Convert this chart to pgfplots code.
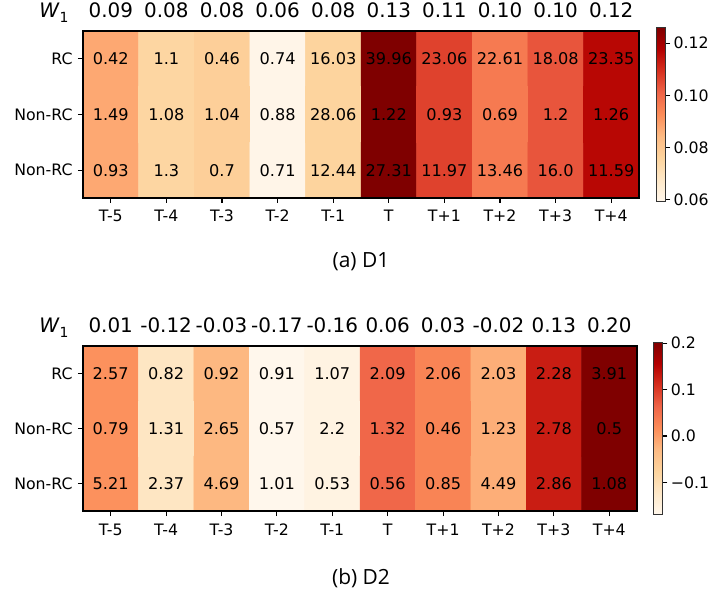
\documentclass[border=0pt]{standalone}
\usepackage{pgfplots}
\pgfplotsset{compat=1.18}
\usepackage{pgfplotstable}
\usepackage{fontspec}
\setmainfont{DejaVu Sans}
\newfontfamily\capfont{Open Sans}

\pgfplotsset{
  colormap={OrRd}{rgb255=(255,247,236) rgb255=(254,232,200) rgb255=(253,212,158) rgb255=(253,187,132) rgb255=(252,141,89) rgb255=(239,101,72) rgb255=(215,48,31) rgb255=(179,0,0) rgb255=(127,0,0)},
  heat/.style={
    scale only axis, anchor=south west,
    xmin=-0.5, xmax=9.5, ymin=-0.5, ymax=2.5, y dir=reverse,
    xtick={0,...,9}, xticklabels={T-5,T-4,T-3,T-2,T-1,T,T+1,T+2,T+3,T+4},
    ytick={0,1,2}, yticklabels={RC,Non-RC,Non-RC},
    xtick pos=lower, ytick pos=left,
    tick align=outside, major tick length=5bp,
    tick style={black, line width=1.1bp},
    axis line style={black, line width=1.2bp},
    tick label style={font=\fontsize{15.8}{18}\selectfont},
    xticklabel style={anchor=base, yshift=-19bp},
    yticklabel style={anchor=east, xshift=-2bp},
    colormap name=OrRd,
    clip=false, axis on top,
  },
  valtext/.style={draw=none, mark=none, nodes near coords, nodes near coords align=center,
    point meta=explicit symbolic,
    every node near coord/.append style={anchor=center, font=\fontsize{16.2}{18}\selectfont, text=black}},
  wrow/.style={
    scale only axis, anchor=south west,
    xmin=-0.5, xmax=9.5, ymin=0, ymax=1,
    hide y axis, axis x line*=top, x axis line style={draw=none},
    xtick={0,...,9}, major tick length=0pt,
    xticklabel style={anchor=base, yshift=13bp, font=\fontsize{20}{23}\selectfont},
    clip=false,
  },
}

\newcommand{\Wone}{\textit{W}\raisebox{-0.25em}{\fontsize{14}{16}\selectfont 1}}

\pgfplotstableread{
x y w
0 0 0.0878
1 0 0.0753
2 0 0.0777
3 0 0.0603
4 0 0.0760
5 0 0.1261
6 0 0.1066
7 0 0.0967
8 0 0.1036
9 0 0.1166
0 1 0.0878
1 1 0.0753
2 1 0.0777
3 1 0.0603
4 1 0.0760
5 1 0.1261
6 1 0.1066
7 1 0.0967
8 1 0.1036
9 1 0.1166
0 2 0.0878
1 2 0.0753
2 2 0.0777
3 2 0.0603
4 2 0.0760
5 2 0.1261
6 2 0.1066
7 2 0.0967
8 2 0.1036
9 2 0.1166
}\topcolor

\pgfplotstableread{
x y label
0 0 0.42
1 0 1.1
2 0 0.46
3 0 0.74
4 0 16.03
5 0 39.96
6 0 23.06
7 0 22.61
8 0 18.08
9 0 23.35
0 1 1.49
1 1 1.08
2 1 1.04
3 1 0.88
4 1 28.06
5 1 1.22
6 1 0.93
7 1 0.69
8 1 1.2
9 1 1.26
0 2 0.93
1 2 1.3
2 2 0.7
3 2 0.71
4 2 12.44
5 2 27.31
6 2 11.97
7 2 13.46
8 2 16.0
9 2 11.59
}\toptext

\pgfplotstableread{
x y w
0 0 0.0124
1 0 -0.117
2 0 -0.027
3 0 -0.169
4 0 -0.156
5 0 0.061
6 0 0.027
7 0 -0.017
8 0 0.128
9 0 0.202
0 1 0.0124
1 1 -0.117
2 1 -0.027
3 1 -0.169
4 1 -0.156
5 1 0.061
6 1 0.027
7 1 -0.017
8 1 0.128
9 1 0.202
0 2 0.0124
1 2 -0.117
2 2 -0.027
3 2 -0.169
4 2 -0.156
5 2 0.061
6 2 0.027
7 2 -0.017
8 2 0.128
9 2 0.202
}\botcolor

\pgfplotstableread{
x y label
0 0 2.57
1 0 0.82
2 0 0.92
3 0 0.91
4 0 1.07
5 0 2.09
6 0 2.06
7 0 2.03
8 0 2.28
9 0 3.91
0 1 0.79
1 1 1.31
2 1 2.65
3 1 0.57
4 1 2.2
5 1 1.32
6 1 0.46
7 1 1.23
8 1 2.78
9 1 0.5
0 2 5.21
1 2 2.37
2 2 4.69
3 2 1.01
4 2 0.53
5 2 0.56
6 2 0.85
7 2 4.49
8 2 2.86
9 2 1.08
}\bottext

\begin{document}
\begin{tikzpicture}
\useasboundingbox (0,0) rectangle (712bp,594bp);

% ---------- (a) D1 ----------
\begin{axis}[heat, at={(83bp,396bp)}, width=556bp, height=167bp,
  point meta min=0.0593, point meta max=0.1261,
  colorbar,
  colorbar style={
    scale only axis, width=8.3bp, height=174.4bp,
    at={(parent axis.north east)}, anchor=north west, xshift=9.2bp, yshift=3.7bp,
    ytick={0.06,0.08,0.10,0.12}, yticklabels={0.06,0.08,0.10,0.12},
    yticklabel pos=right, ytick pos=right,
    tick align=outside, major tick length=5bp,
    tick style={black, line width=1.1bp},
    axis line style={black!80, line width=1bp},
    yticklabel style={font=\fontsize{15.8}{18}\selectfont, anchor=west},
  }]
\addplot[matrix plot*, mesh/cols=10, mesh/rows=3, point meta=explicit] table[x=x, y=y, meta=w] \topcolor;
\addplot[valtext] table[x=x, y=y, meta=label] \toptext;
\end{axis}
\begin{axis}[wrow, at={(83bp,396bp)}, width=556bp, height=167bp,
  xticklabels={0.09,0.08,0.08,0.06,0.08,0.13,0.11,0.10,0.10,0.12}]
\node[anchor=base east, font=\fontsize{20}{23}\selectfont] at (rel axis cs:0,1) [xshift=-11bp, yshift=13bp] {\Wone};
\end{axis}
\node[font=\capfont\fontsize{21}{24}\selectfont] at (361bp,332bp) {(a) D1};

% ---------- (b) D2 ----------
\begin{axis}[heat, at={(83bp,83bp)}, width=554bp, height=165bp,
  point meta min=-0.169, point meta max=0.202,
  colorbar,
  colorbar style={
    scale only axis, width=9bp, height=172bp,
    at={(parent axis.north east)}, anchor=north west, xshift=7.8bp, yshift=3.7bp,
    ytick={-0.1,0,0.1,0.2}, yticklabels={\char"2212 0.1,0.0,0.1,0.2},
    yticklabel pos=right, ytick pos=right,
    tick align=outside, major tick length=5bp,
    tick style={black, line width=1.1bp},
    axis line style={black!80, line width=1bp},
    yticklabel style={font=\fontsize{15.8}{18}\selectfont, anchor=west},
  }]
\addplot[matrix plot*, mesh/cols=10, mesh/rows=3, point meta=explicit] table[x=x, y=y, meta=w] \botcolor;
\addplot[valtext] table[x=x, y=y, meta=label] \bottext;
\end{axis}
\begin{axis}[wrow, at={(83bp,83bp)}, width=554bp, height=165bp,
  xticklabels={0.01,-0.12,-0.03,-0.17,-0.16,0.06,0.03,-0.02,0.13,0.20}]
\node[anchor=base east, font=\fontsize{20}{23}\selectfont] at (rel axis cs:0,1) [xshift=-11bp, yshift=13bp] {\Wone};
\end{axis}
\node[font=\capfont\fontsize{21}{24}\selectfont] at (361bp,16bp) {(b) D2};
\end{tikzpicture}
\end{document}
